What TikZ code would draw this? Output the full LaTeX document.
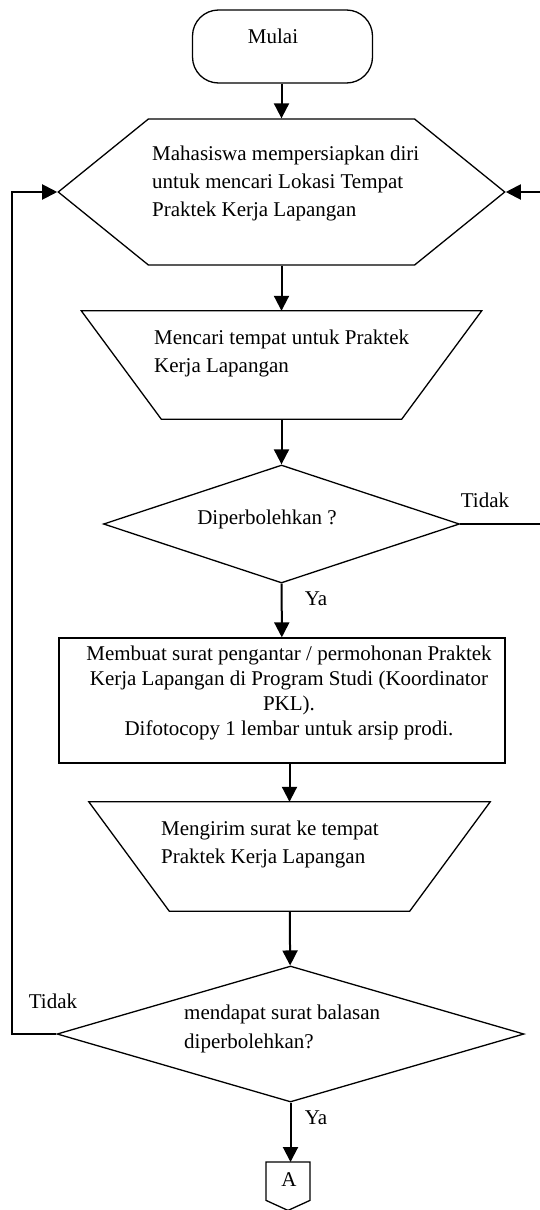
\documentclass[tikz,border=0pt]{standalone}
\usepackage{fontspec}
\setmainfont{Liberation Serif}
\usetikzlibrary{shapes.geometric}
\usetikzlibrary{shapes.symbols}
\usetikzlibrary{arrows.meta}
\tikzset{x=1pt, y=1pt,
outline/.style={ % Sets the outline of every flowchart shape
draw,
line width=1.3pt,
inner sep=0pt},
terminal/.style={outline, rectangle, rounded corners=26pt, minimum width=180pt, minimum height=73pt},
prepare/.style={outline, signal, signal to=east and west, signal pointer angle=78,
minimum width=446.5pt, minimum height=146pt},
manual/.style={rectangle, inner sep=0pt, minimum height=108pt}, % outline drawn by hand
decision/.style={outline, diamond},
process/.style={outline, rectangle, minimum width=446pt, minimum height=125pt},
offpage/.style={rectangle, inner sep=0pt, minimum width=43.5pt, minimum height=48pt},
txt/.style={inner sep=0pt, font=\fontsize{21}{28}\selectfont}, % Text inside the shapes
flow/.style={-{Triangle[length=15pt, width=15pt]}, line width=2pt},
every edge/.style={ % Sets the properties for each flow line
draw,
flow}}
\begin{document}
\begin{tikzpicture}
\useasboundingbox (0,0) rectangle (540,-1210);
\clip (0,0) rectangle (540,-1210);
% shapes
\node[terminal] (start) at (282.5,-46.5) {};
\node[prepare] (prep) at (281.5,-192) {};
\node[manual, minimum width=400pt] (search) at (281.5,-365) {};
\draw[line width=1.3pt] (search.north west) -- (search.north east)
  -- ([xshift=-80]search.south east) -- ([xshift=80]search.south west) -- cycle;
\node[decision, minimum width=356pt, minimum height=118pt] (allowed) at (281.5,-524) {};
\node[process] (letter) at (282,-700.5) {};
\node[manual, minimum width=401pt, minimum height=109pt] (send) at (289.5,-856.5) {};
\draw[line width=1.3pt] (send.north west) -- (send.north east)
  -- ([xshift=-80.5]send.south east) -- ([xshift=80.5]send.south west) -- cycle;
\node[decision, minimum width=467pt, minimum height=136pt] (reply) at (290.5,-1034) {};
\node[offpage, anchor=north] (conA) at (288,-1162) {};
\draw[line width=1.3pt] (conA.north west) -- (conA.north east) -- ([yshift=10]conA.south east)
  -- (conA.south) -- ([yshift=10]conA.south west) -- cycle;
% texts
\node[txt, anchor=base] (tStart) at (273,-43.5) {Mulai};
\node[txt, anchor=base west, align=left] (tPrep) at (152,-216) {Mahasiswa mempersiapkan diri\\untuk mencari Lokasi Tempat\\Praktek Kerja Lapangan};
\node[txt, anchor=base west, align=left] (tSearch) at (154,-372) {Mencari tempat untuk Praktek\\Kerja Lapangan};
\node[txt, anchor=base] (tAllowed) at (267,-524) {Diperbolehkan ?};
\node[txt, anchor=base] (noA) at (485,-507) {Tidak};
\node[txt, anchor=base] (yesA) at (316,-605) {Ya};
\node[txt, anchor=base, align=center, font=\fontsize{21}{25}\selectfont] (tLetter) at (289,-735) {Membuat surat pengantar / permohonan Praktek\\Kerja Lapangan di Program Studi (Koordinator\\PKL).\\Difotocopy 1 lembar untuk arsip prodi.};
\node[txt, anchor=base west, align=left] (tSend) at (161,-863.2) {Mengirim surat ke tempat\\Praktek Kerja Lapangan};
\node[txt, anchor=base west, align=left, font=\fontsize{21}{29}\selectfont] (tReply) at (184,-1048.3) {mendapat surat balasan\\diperbolehkan?};
\node[txt, anchor=base] (noB) at (53,-1008) {Tidak};
\node[txt, anchor=base] (yesB) at (316,-1124) {Ya};
\node[txt, anchor=base] (tA) at (289,-1186.7) {A};
% flow lines
\draw (start.south -| prep.north) edge (prep);
\draw (prep) edge (search);
\draw (search) edge (allowed);
\draw (allowed) edge (letter);
\draw (send.north |- letter.south) edge (send);
\draw (send) edge (reply);
\draw (reply.south) edge (reply.south |- conA.north);
\draw[flow] (reply.west) -- ++(-44.3,0) |- (prep.west);
\draw[flow] (allowed.east) -- ++(120,0) |- (prep.east);
\end{tikzpicture}
\end{document}
